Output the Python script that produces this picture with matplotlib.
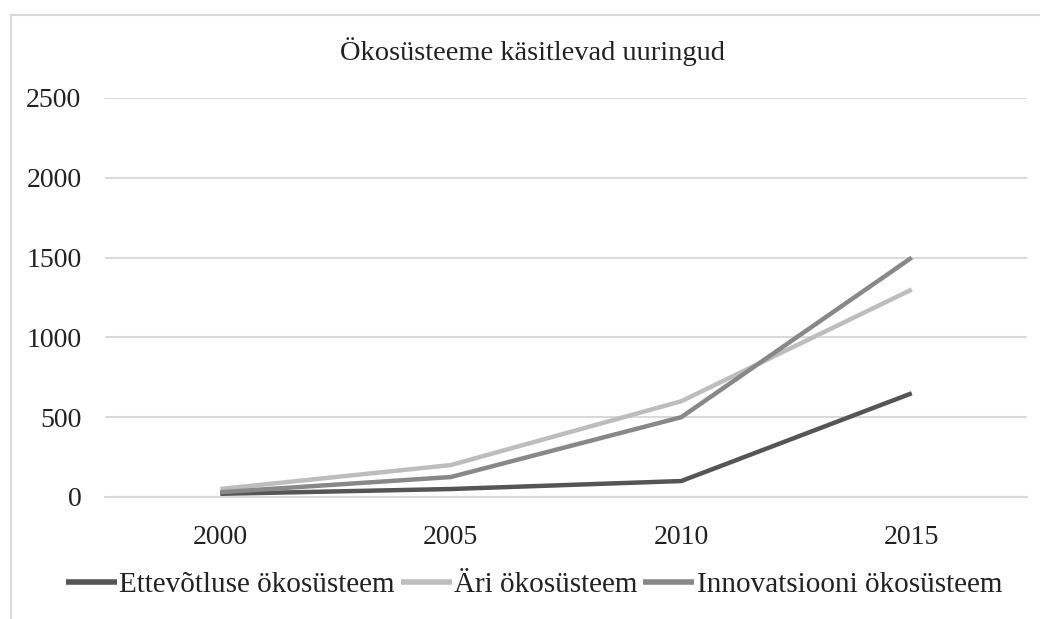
import matplotlib
matplotlib.use("Agg")
from matplotlib import pyplot as plt
from matplotlib.patches import Rectangle

# donnees
aastad = ["2000", "2005", "2010", "2015"]
ettevotluse = [20, 50, 100, 650]
ari = [50, 200, 600, 1300]
innovatsiooni = [30, 125, 500, 1500]
nimed = ["Ettevõtluse ökosüsteem", "Äri ökosüsteem", "Innovatsiooni ökosüsteem"]
varvid = ["#555555", "#bdbdbd", "#888888"]

plt.rcParams["font.family"] = ["Liberation Serif", "DejaVu Serif"]

fig = plt.figure(figsize=(10.4, 6.19), dpi=100)
ax = fig.add_axes([105 / 1040, 1 - 497 / 619, 922 / 1040, 399 / 619])

x = range(len(aastad))
for seeria, nimi, varv in zip([ettevotluse, ari, innovatsiooni], nimed, varvid):
    ax.plot(x, seeria, color=varv, lw=3.2, label=nimi, solid_capstyle="butt")

ax.set_xlim(-0.5, 3.5)
ax.set_ylim(0, 2500)
ax.set_yticks(range(0, 2501, 500))
ax.set_xticks(list(x))
ax.set_xticklabels(aastad)
ax.grid(axis="y", color="#d9d9d9", lw=1.5)
ax.set_axisbelow(True)
for s in ["top", "right", "left"]:
    ax.spines[s].set_visible(False)
ax.spines["bottom"].set_color("#d9d9d9")
ax.spines["bottom"].set_linewidth(1.5)
ax.tick_params(axis="both", length=0, labelsize=20, colors="#222222")
ax.tick_params(axis="y", pad=17)
ax.tick_params(axis="x", pad=20)

# titre et cadre
fig.text(532 / 1040, 1 - 52 / 619, "Ökosüsteeme käsitlevad uuringud",
         ha="center", va="center", fontsize=20.5, color="#222222")
fig.patches.append(Rectangle((11 / 1040, -0.1), 1.1, 1 - 15 / 619 + 0.1,
                             transform=fig.transFigure, fill=False,
                             edgecolor="#d9d9d9", lw=1.5))

leg = fig.legend(loc="center", bbox_to_anchor=(534 / 1040, 1 - 585 / 619), ncol=3,
                 frameon=False, fontsize=21, handlelength=1.75, handletextpad=0.08,
                 columnspacing=0.2, labelcolor="#222222")
for h in leg.get_lines():
    h.set_linewidth(4)

fig.savefig("out.png", dpi=100)
